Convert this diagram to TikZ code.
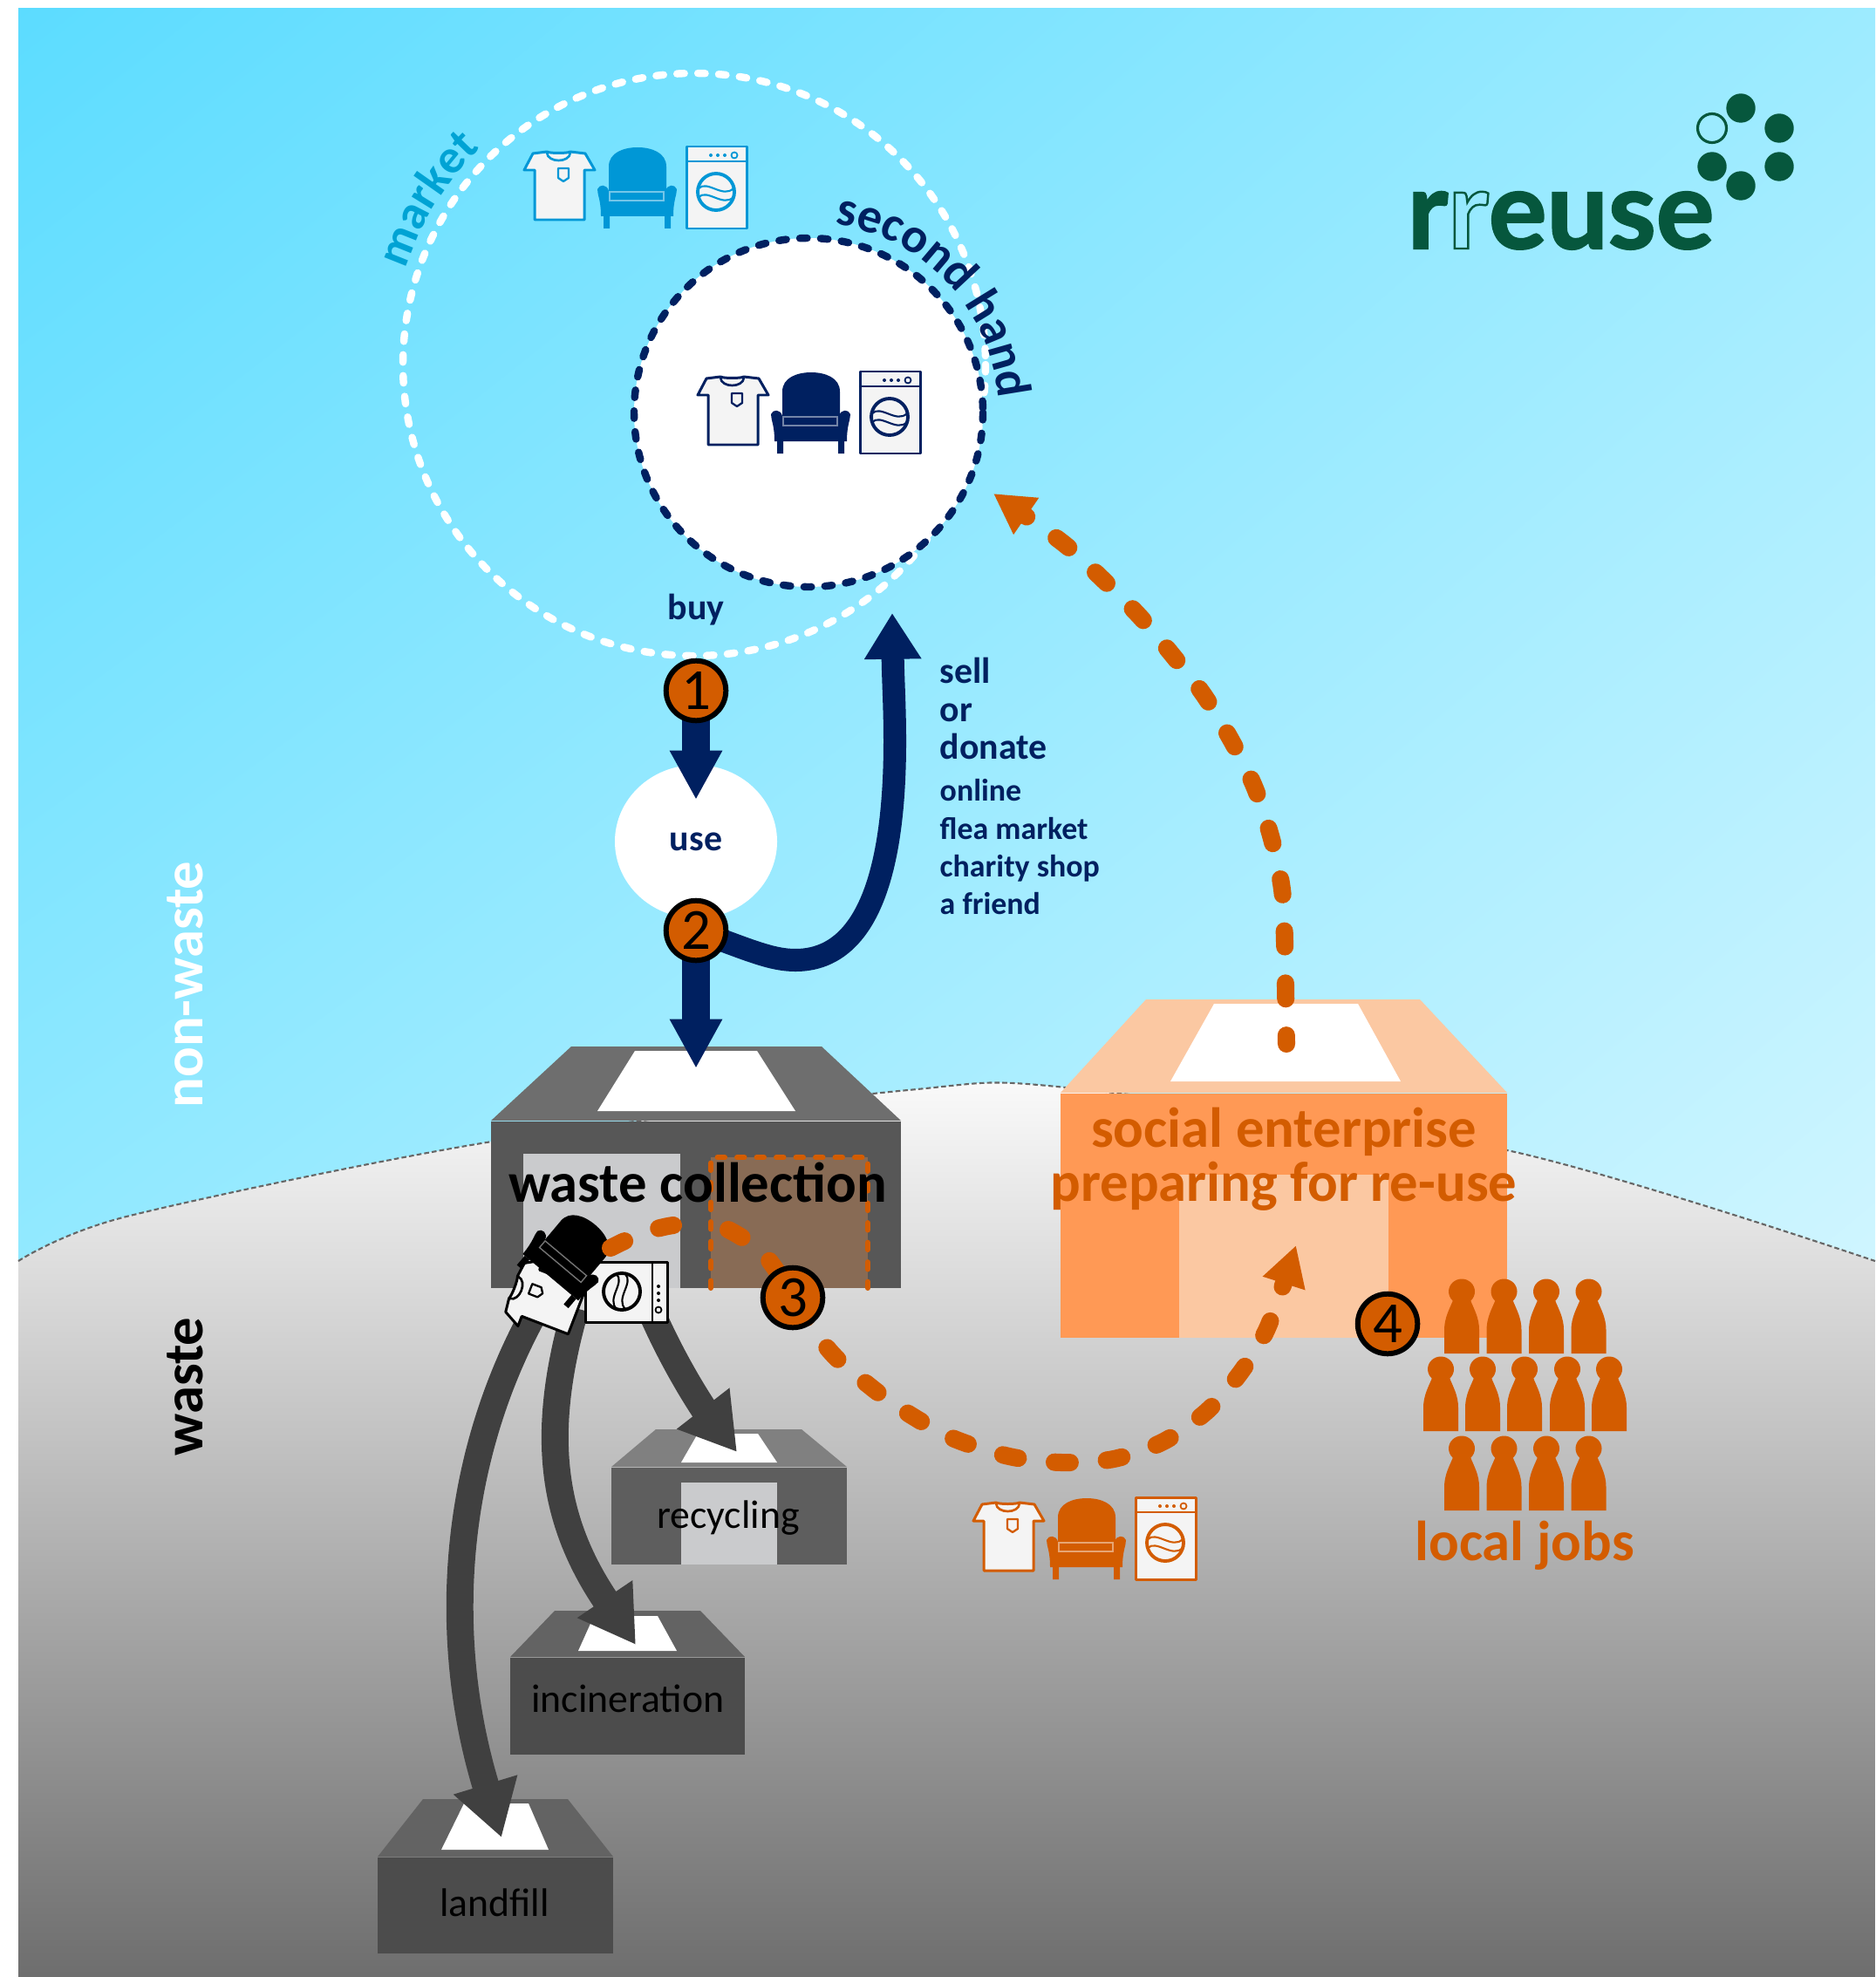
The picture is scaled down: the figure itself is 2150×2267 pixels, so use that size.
\documentclass[tikz,border=0pt]{standalone}
\usepackage{fontspec}
\setmainfont{Carlito}
\newfontfamily\logofont{Lato}
\usetikzlibrary{arrows.meta,decorations.text,shapes.geometric,shadings}
\definecolor{navyc}{HTML}{002060}
\definecolor{orangec}{HTML}{D35C00}
\definecolor{marketc}{HTML}{0097D6}
\definecolor{markettext}{HTML}{00A3D4}
\definecolor{logoc}{HTML}{06573D}
\definecolor{itemfill}{HTML}{F4F4F4}
\definecolor{holec}{HTML}{CACBCD}
\definecolor{skyul}{HTML}{5CDCFF}
\definecolor{skyur}{HTML}{9DEBFF}
\definecolor{skyll}{HTML}{92E9FF}
\definecolor{skylr}{HTML}{CFF5FF}
\definecolor{doorc}{HTML}{886B55}
\definecolor{roofc}{HTML}{FBC8A2}
\definecolor{frontc}{HTML}{FF9955}
\tikzset{
  x=0.01cm, y=-0.01cm,
  bluearrow/.style={draw=navyc, line width=9.2pt, -{Triangle[length=16pt,width=16pt]}},
  sellarrow/.style={draw=navyc, line width=7.4pt, -{Triangle[length=15pt,width=17.6pt]}},
  greyarrow/.style={draw=black!75, line width=8.8pt, -{Triangle[length=18pt,width=20.5pt]}},
  orangestroke/.style={draw=orangec, line width=5.7pt, line cap=round, dash pattern=on 5.1pt off 11.9pt},
  orangedash/.style={orangestroke, -{Triangle[length=13pt,width=13.6pt]}},
  circledash/.style={line width=2.4pt, line cap=round, dash pattern=on 2.4pt off 4.4pt},
  numcircle/.style={circle, draw=black, line width=1.7pt, fill=orangec, minimum size=19.5pt, inner sep=0pt, font=\fontsize{19}{19}\selectfont, text=black},
  bigtext/.style={anchor=base, inner sep=0pt, font=\fontsize{18.4}{18.4}\selectfont\bfseries},
  smalltext/.style={anchor=base west, inner sep=0pt, text=navyc, font=\fontsize{10.2}{10.2}\selectfont\bfseries},
  midtext/.style={anchor=base west, inner sep=0pt, text=navyc, font=\fontsize{11.9}{11.9}\selectfont\bfseries},
  bintext/.style={anchor=base, text=black, font=\fontsize{13}{13}\selectfont},
}
% icons, drawn from their top left corner
\newcommand{\shirticon}[1]{
  \draw[draw=#1, fill=itemfill, line width=0.85pt, line join=round] (10,2) -- (26,0) .. controls (30,2) and (49,2) .. (53,0) -- (70,2) -- (81,21) -- (69,21) -- (69,78) -- (12,78) -- (12,21) -- (0,21) -- cycle;
  \draw[draw=#1, line width=0.75pt] (26,1) .. controls (27,13) and (52,13) .. (53,1);
  \draw[draw=#1, line width=0.65pt, line join=round] (39,19) -- (51,19) -- (51,30) -- (45,34) -- (39,30) -- cycle;
}
\newcommand{\chairicon}[1]{
  \fill[#1] (13,52) -- (13,22) .. controls (13,6) and (30,0) .. (46,0) .. controls (62,0) and (79,6) .. (79,22) -- (79,52) -- cycle;
  \fill[#1] (0,48) .. controls (2,42) and (11,42) .. (13,50) -- (78,50) .. controls (80,42) and (89,42) .. (91,48) .. controls (91,55) and (87,60) .. (87,79) -- (4,79) .. controls (4,60) and (0,55) .. (0,48) -- cycle;
  \fill[#1] (7,79) rectangle (14,93) (77,79) rectangle (84,93);
  \draw[#1!55!white, line width=0.4pt] (14,51) rectangle (76,61);
}
\newcommand{\washicon}[1]{
  \draw[draw=#1, fill=itemfill, line width=0.85pt, line join=round] (0,0) rectangle (69,94);
  \draw[draw=#1, line width=0.6pt] (0,17) -- (69,17);
  \foreach \dotx in {28,36,44} \fill[#1] (\dotx,10) circle (2);
  \draw[draw=#1, line width=0.5pt] (55,10) circle (3.5);
  \draw[draw=#1, line width=1.1pt] (34,52) circle (21);
  \draw[draw=#1, line width=0.6pt] (14,48) .. controls (24,38) and (42,60) .. (54,48);
  \draw[draw=#1, line width=0.6pt] (14,58) .. controls (24,48) and (42,70) .. (54,58);
}
\newcommand{\goodsicons}[3]{
  \begin{scope}[shift={(#2,#3)}]
    \begin{scope}[shift={(0,6)}] \shirticon{#1} \end{scope}
    \begin{scope}[shift={(84,1)}] \chairicon{#1} \end{scope}
    \begin{scope}[shift={(186,0)}] \washicon{#1} \end{scope}
  \end{scope}
}
\newcommand{\person}[2]{
  \fill[orangec] (#1,#2+14) ellipse (15 and 14.5);
  \fill[orangec] (#1-20,#2+85) -- (#1-20,#2+58) .. controls (#1-20,#2+44) and (#1-14,#2+34) .. (#1-10,#2+24) -- (#1+10,#2+24) .. controls (#1+14,#2+34) and (#1+20,#2+44) .. (#1+20,#2+58) -- (#1+20,#2+85) -- cycle;
}
\begin{document}
\begin{tikzpicture}
\useasboundingbox (0,0) rectangle (2150,2267);

% sky and ground
\shade[upper left=skyul, upper right=skyur, lower left=skyll, lower right=skylr] (21,10) rectangle (2150,1450);
\shade[top color=white!96!gray, bottom color=black!57] plot[smooth] coordinates {(21,1446) (145,1395) (564,1309) (1041,1250) (1222,1247) (1728,1319) (2150,1446)} -- (2150,2267) -- (21,2267) -- cycle;
\draw[draw=black!60, line width=0.6pt, dash pattern=on 1.6pt off 0.9pt] plot[smooth] coordinates {(21,1446) (145,1395) (564,1309) (1041,1250) (1222,1247) (1728,1319) (2150,1446)};

\node (nonwaste) [bigtext, rotate=90, text=white] at (232,1129) {non-waste};
\node (wastelab) [bigtext, rotate=90, text=black] at (232,1590) {waste};

% market circles
\draw[white, circledash] (796,418) circle (334);
\draw[navyc, fill=white, circledash] (927,473) circle (200);
\goodsicons{marketc}{601}{168}
\goodsicons{navyc}{800}{426}
\path[decorate, decoration={text along path, text align=center, text={|\fontsize{15.6}{15.6}\selectfont\bfseries\color{markettext}|market}}] plot[domain=170:126.4, samples=40] ({796+349*cos(\x)},{418-349*sin(\x)});
\path[decorate, decoration={text along path, text align=center, text={|\fontsize{16}{16}\selectfont\bfseries\color{navyc}|second hand}}] plot[domain=87:-1, samples=40] ({927+218*cos(\x)},{473-218*sin(\x)});

% logo
\node (logo) [anchor=base west, inner sep=0pt, text=logoc, font=\logofont\bfseries\fontsize{35.5}{35.5}\selectfont] at (1613,285) {\special{pdf:code 2 Tr 0.6 w}r\special{pdf:code 1 Tr 0.7 w}r\special{pdf:code 2 Tr 0.6 w}euse\special{pdf:code 0 Tr}};
\foreach \logox/\logoy in {1996/124, 2040/147, 2040/191, 1996/213, 1963/191} \fill[logoc] (\logox,\logoy) circle (16.7);
\draw[logoc, line width=0.9pt] (1963,147) circle (16.5);

% use node and arrows
\node (usenode) [ellipse, fill=white, minimum width=52.9pt, minimum height=50pt, inner sep=0pt] at (798,965) {};
\node (uselab) [midtext, anchor=base] at (798,975) {use};
\node (buylab) [midtext, anchor=base] at (798,710) {buy};
\coordinate (c1) at (798,792);
\coordinate (c2) at (798,1067);
\coordinate (usetip) at (798,917);
\coordinate (bintip) at (798,1225);
\coordinate (selltip) at (1023,703);

% waste collection building
\fill[black!57] (655,1200) -- (942,1200) -- (1033,1285) -- (563,1285) -- cycle;
\fill[white] (728,1205) -- (868,1205) -- (912,1274) -- (685,1274) -- cycle;
\fill[black!66] (563,1286) rectangle (1033,1477);
\fill[holec] (600,1323) rectangle (780,1477);
\fill[doorc] (815,1327) rectangle (995,1477);
\draw[orangec, line width=1.7pt, line cap=round, dash pattern=on 2.4pt off 4pt] (815,1477) -- (815,1327) -- (995,1327) -- (995,1477);
\node (collect) [bigtext, text=black] at (800,1378) {waste collection};

\draw[bluearrow] (c1) -- (usetip);
\draw[bluearrow] (c2) -- (bintip);
\draw[sellarrow] (c2) .. controls (860,1090) and (885,1101) .. (912,1101) .. controls (990,1101) and (1026,1010) .. (1026,850) .. controls (1026,810) and (1024,780) .. (selltip);

\node (sell) [midtext] at (1077,783) {sell};
\node (orlab) [midtext] at (1077,827) {or};
\node (donate) [midtext] at (1077,870) {donate};
\node (online) [smalltext] at (1077,918) {online};
\node (flea) [smalltext] at (1077,962) {flea market};
\node (charity) [smalltext] at (1077,1005) {charity shop};
\node (friend) [smalltext] at (1077,1048) {a friend};

% bins
\fill[black!50] (752,1639) -- (919,1639) -- (971,1682) -- (701,1682) -- cycle;
\fill[white] (800,1644) -- (869,1644) -- (891,1677) -- (781,1677) -- cycle;
\fill[black!63] (701,1683) rectangle (971,1794);
\fill[holec] (781,1700) rectangle (891,1794);
\fill[black!61] (636,1847) -- (803,1847) -- (854,1900) -- (585,1900) -- cycle;
\fill[white] (681,1853) -- (754,1853) -- (776,1893) -- (663,1893) -- cycle;
\fill[black!70] (585,1901) rectangle (854,2012);
\fill[black!61] (485,2063) -- (651,2063) -- (703,2129) -- (433,2129) -- cycle;
\fill[white] (532,2068) -- (606,2068) -- (629,2121) -- (506,2121) -- cycle;
\fill[black!70] (433,2130) rectangle (703,2240);
\node (recycling) [bintext] at (835,1752) {recycling};
\node (incineration) [bintext] at (720,1963) {incineration};
\node (landfill) [bintext] at (567,2197) {landfill};

\coordinate (stackrec) at (745,1500);
\coordinate (stackinc) at (660,1500);
\coordinate (stacklan) at (610,1510);
\coordinate (binrec) at (845,1665);
\coordinate (bininc) at (729,1886);
\coordinate (binlan) at (575,2107);
\draw[greyarrow] (stackrec) .. controls (775,1570) and (810,1620) .. (binrec);
\draw[greyarrow] (stackinc) .. controls (620,1640) and (630,1740) .. (bininc);
\draw[greyarrow] (stacklan) .. controls (518,1680) and (506,1880) .. (binlan);

% stack of thrown away goods
\begin{scope}[shift={(626,1490)}, rotate=69, shift={(-40,-40)}] \shirticon{black} \end{scope}
\begin{scope}[shift={(718,1482)}, rotate=-90, shift={(-35,-47)}] \washicon{black} \end{scope}
\begin{scope}[shift={(652,1439)}, rotate=-40, shift={(-45,-46)}] \chairicon{black} \end{scope}

% social enterprise building
\fill[roofc] (1314,1146) -- (1628,1146) -- (1728,1253) -- (1216,1253) -- cycle;
\fill[white] (1392,1151) -- (1557,1151) -- (1606,1240) -- (1342,1240) -- cycle;
\fill[frontc] (1216,1254) rectangle (1728,1534);
\fill[roofc] (1352,1347) rectangle (1592,1534);
\node (social) [bigtext, text=orangec] at (1472,1315) {social enterprise};
\node (prep) [bigtext, text=orangec] at (1472,1377) {preparing for re-use};

% flows of goods
\coordinate (reuseout) at (1475,1197);
\coordinate (markettip) at (1139,566);
\coordinate (stackout) at (700,1431);
\coordinate (stackgap) at (772,1405);
\coordinate (doorout) at (835,1410);
\coordinate (reusetip) at (1486,1428);
\draw[orangedash, dash phase=2.3pt] plot[smooth] coordinates {(reuseout) (1473,1080) (1470,1020) (1458,962) (1439,904) (1414,853) (1381,798) (1345,752) (1306,706) (1262,662) (1218,622) (markettip)};
\draw[orangestroke] (stackout) .. controls (725,1418) and (750,1408) .. (stackgap);
\draw[orangedash] plot[smooth] coordinates {(doorout) (880,1443) (948,1545) (998,1590) (1040,1620) (1092,1649) (1157,1670) (1217,1677) (1277,1673) (1334,1653) (1384,1618) (1423,1573) (1454,1521) (reusetip)};
\goodsicons{orangec}{1116}{1717}

\foreach \px in {1676,1724.5,1773,1821.5} \person{\px}{1467};
\foreach \px in {1652,1700,1748,1797,1845} \person{\px}{1556};
\foreach \px in {1676,1724.5,1773,1821.5} \person{\px}{1647};
\node (jobs) [bigtext, text=orangec] at (1748,1789) {local jobs};

\node (n1) [numcircle] at (c1) {1};
\node (n2) [numcircle] at (c2) {2};
\node (n3) [numcircle] at (909,1488) {3};
\node (n4) [numcircle] at (1591,1518) {4};
\end{tikzpicture}
\end{document}
